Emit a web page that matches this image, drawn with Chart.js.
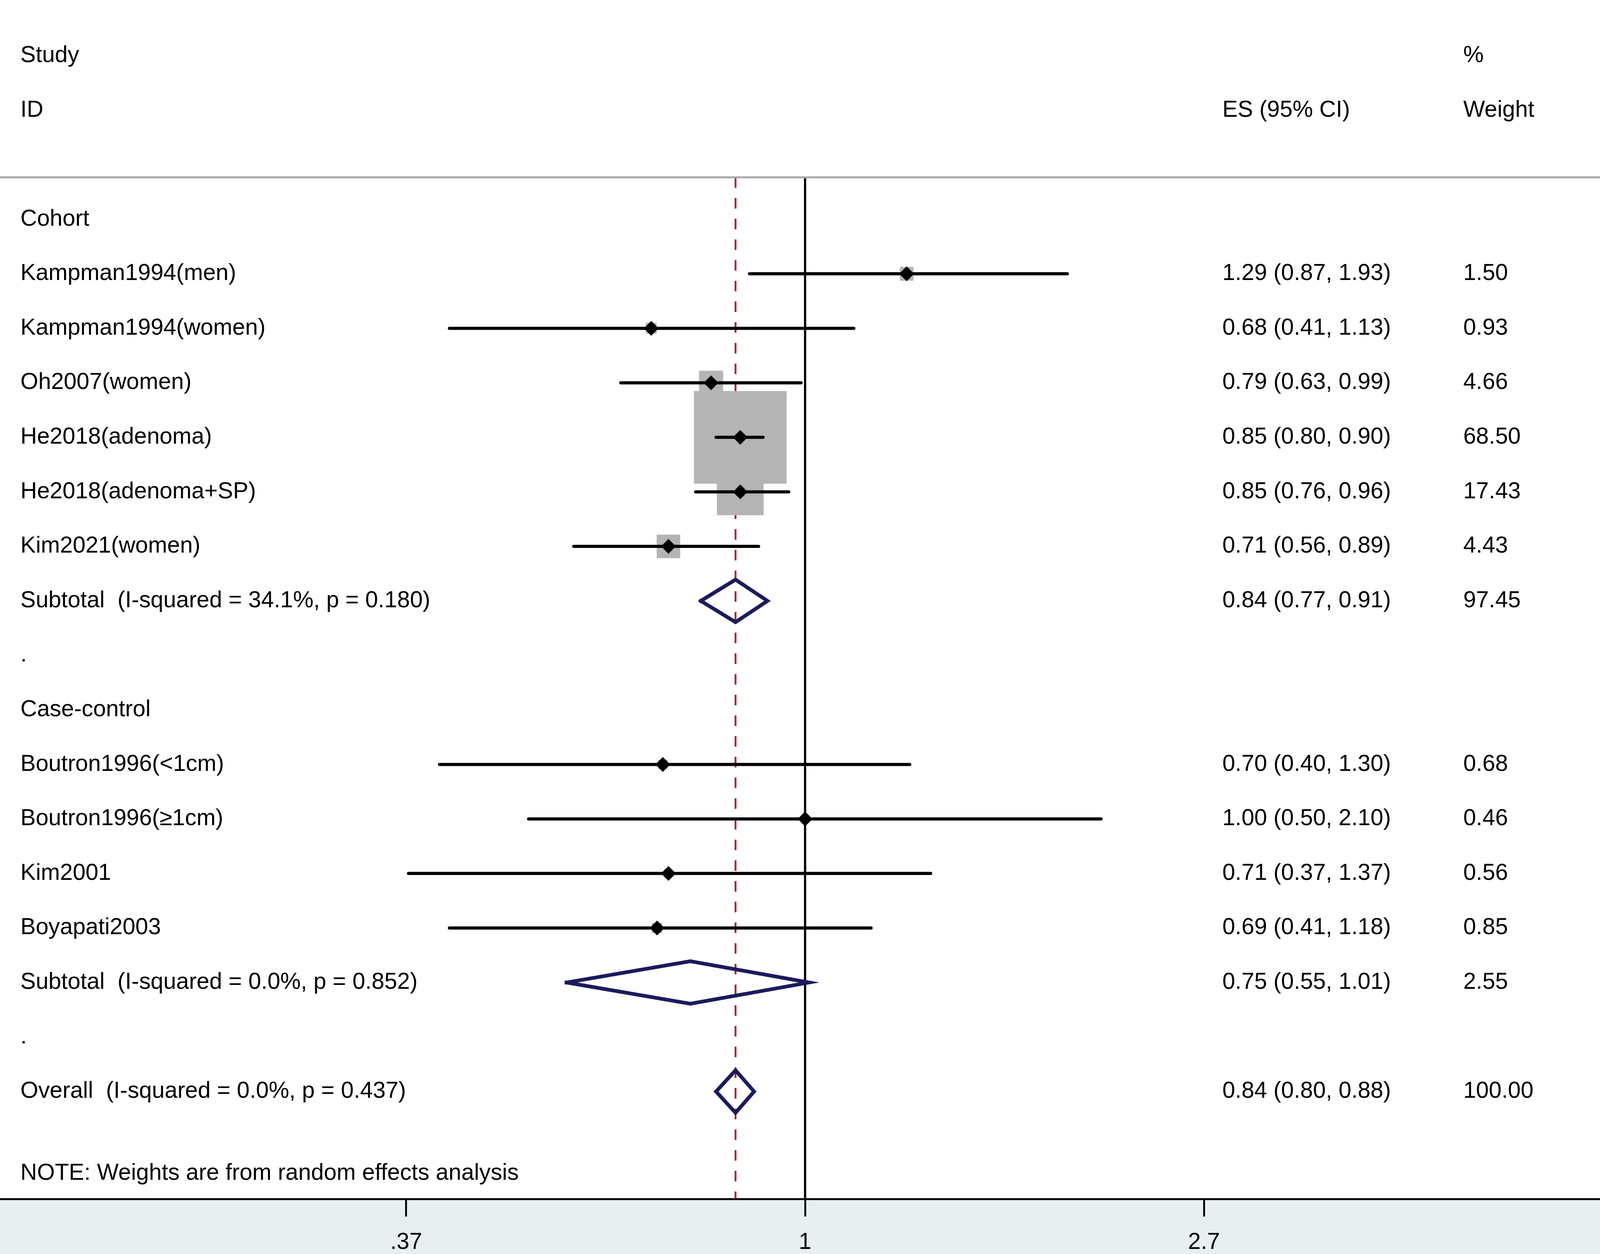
<!DOCTYPE html>
<html lang="en">
<head>
  <meta charset="UTF-8" />
  <title>Forest plot</title>
  <script src="https://cdn.jsdelivr.net/npm/chart.js@4.4.1/dist/chart.umd.min.js"></script>
  <style>
    html, body { margin: 0; padding: 0; background: #fff; overflow: hidden; }
    #wrap { position: fixed; left: 0; top: 0; width: 100vw; height: 100vh; }
  </style>
</head>
<body>
  <div id="wrap"><canvas id="forest"></canvas></div>

  <script>
    // individual studies
    const studyLabels = ['Kampman1994(men)', 'Kampman1994(women)', 'Oh2007(women)', 'He2018(adenoma)',
                         'He2018(adenoma+SP)', 'Kim2021(women)', 'Boutron1996(<1cm)', 'Boutron1996(\u22651cm)',
                         'Kim2001', 'Boyapati2003'];
    const studyRows   = [1, 2, 3, 4, 5, 6, 10, 11, 12, 13];
    const studyES     = [1.29, 0.68, 0.79, 0.85, 0.85, 0.71, 0.70, 1.00, 0.71, 0.69];
    const studyLo     = [0.87, 0.41, 0.63, 0.80, 0.76, 0.56, 0.40, 0.50, 0.37, 0.41];
    const studyHi     = [1.93, 1.13, 0.99, 0.90, 0.96, 0.89, 1.30, 2.10, 1.37, 1.18];
    const studyWeight = [1.50, 0.93, 4.66, 68.50, 17.43, 4.43, 0.68, 0.46, 0.56, 0.85];

    // pooled estimates (subtotals + overall)
    const pooledLabels = ['Subtotal  (I-squared = 34.1%, p = 0.180)',
                          'Subtotal  (I-squared = 0.0%, p = 0.852)',
                          'Overall  (I-squared = 0.0%, p = 0.437)'];
    const pooledRows   = [7, 14, 16];
    const pooledES     = [0.84, 0.75, 0.84];
    const pooledLo     = [0.77, 0.55, 0.80];
    const pooledHi     = [0.91, 1.01, 0.88];
    const pooledWeight = [97.45, 2.55, 100.00];

    // group headings and spacer rows
    const groupLabels = ['Cohort', 'Case-control'];
    const groupRows   = [0, 9];
    const spacerRows  = [8, 15];

    // x axis (log scale)
    const xTickValues = [0.3679, 1, 2.718];
    const xTickLabels = ['.37', '1', '2.7'];

    // everything is laid out on a 4317 x 3211 design and scaled to the window
    const wrap = document.getElementById('wrap');
    const sx = wrap.clientWidth / 4317;
    const sy = wrap.clientHeight / 3211;
    const FAMILY = '"Liberation Sans", Arial, sans-serif';
    const fs = 62 * sx;
    const SQUARE_PX = 30.2 * sx;   // square side per sqrt(weight)
    const DIAMOND_HALF = 0.39;     // pooled diamond half height, in rows
    const fmt = v => v.toFixed(2);

    const datasets = [];

    // null line and overall-effect dashed line
    datasets.push({
      data: [{x: 1, y: -0.77}, {x: 1, y: 17.97}],
      showLine: true, pointRadius: 0, borderColor: '#000', borderWidth: 6 * sx, order: 60
    });
    datasets.push({
      data: [{x: pooledES[2], y: -0.77}, {x: pooledES[2], y: 17.97}],
      showLine: true, pointRadius: 0, borderColor: '#a3262b', borderWidth: 5 * sx,
      borderDash: [27 * sy, 26 * sy], order: 55
    });

    // weight squares
    datasets.push({
      data: studyES.map((v, i) => ({x: v, y: studyRows[i]})),
      pointStyle: 'rect',
      pointRadius: studyWeight.map(w => SQUARE_PX * Math.sqrt(w) / Math.SQRT2),
      pointBorderWidth: 0, backgroundColor: '#b4b4b4', borderWidth: 0, order: 40
    });

    // confidence intervals
    studyLabels.forEach((_, i) => {
      datasets.push({
        data: [{x: studyLo[i], y: studyRows[i]}, {x: studyHi[i], y: studyRows[i]}],
        showLine: true, pointRadius: 0, borderColor: '#000', borderWidth: 8 * sy,
        borderCapStyle: 'round', order: 30
      });
    });

    // pooled diamonds
    pooledLabels.forEach((_, i) => {
      const r = pooledRows[i];
      datasets.push({
        data: [{x: pooledLo[i], y: r}, {x: pooledES[i], y: r - DIAMOND_HALF},
               {x: pooledHi[i], y: r}, {x: pooledES[i], y: r + DIAMOND_HALF},
               {x: pooledLo[i], y: r}],
        showLine: true, pointRadius: 0, borderColor: '#1b1a5c', borderWidth: 10 * sx,
        borderJoinStyle: 'miter', borderCapStyle: 'square', order: 20
      });
    });

    // point estimates
    datasets.push({
      data: studyES.map((v, i) => ({x: v, y: studyRows[i]})),
      pointStyle: 'rectRot', pointRadius: 20 * sx, pointBorderWidth: 0,
      backgroundColor: '#000', order: 10
    });

    // text columns, header, separator and bottom band
    const forestText = {
      id: 'forestText',
      beforeDraw(chart) {
        const {ctx, chartArea, width, height} = chart;
        ctx.save();
        ctx.fillStyle = '#e8eff1';
        ctx.fillRect(0, chartArea.bottom, width, height - chartArea.bottom);
        ctx.restore();
      },
      afterDraw(chart) {
        const {ctx, chartArea, width} = chart;
        const ys = chart.scales.y;
        ctx.save();
        ctx.strokeStyle = '#a8a8a8';
        ctx.lineWidth = 5 * sy;
        ctx.beginPath();
        ctx.moveTo(0, chartArea.top);
        ctx.lineTo(width, chartArea.top);
        ctx.stroke();

        ctx.font = fs + 'px ' + FAMILY;
        ctx.fillStyle = '#000';
        ctx.textBaseline = 'middle';
        ctx.textAlign = 'left';
        const put = (txt, x, row) => ctx.fillText(txt, x * sx, ys.getPixelForValue(row));
        const xLeft = 55, xES = 3298, xW = 3948;

        put('Study', xLeft, -3);
        put('ID', xLeft, -2);
        put('%', xW, -3);
        put('ES (95% CI)', xES, -2);
        put('Weight', xW, -2);

        groupLabels.forEach((t, i) => put(t, xLeft, groupRows[i]));
        spacerRows.forEach(r => put('.', xLeft, r));

        studyLabels.forEach((t, i) => {
          put(t, xLeft, studyRows[i]);
          put(fmt(studyES[i]) + ' (' + fmt(studyLo[i]) + ', ' + fmt(studyHi[i]) + ')', xES, studyRows[i]);
          put(fmt(studyWeight[i]), xW, studyRows[i]);
        });
        pooledLabels.forEach((t, i) => {
          put(t, xLeft, pooledRows[i]);
          put(fmt(pooledES[i]) + ' (' + fmt(pooledLo[i]) + ', ' + fmt(pooledHi[i]) + ')', xES, pooledRows[i]);
          put(fmt(pooledWeight[i]), xW, pooledRows[i]);
        });

        put('NOTE: Weights are from random effects analysis', xLeft, 17.5);
        ctx.restore();
      }
    };

    const tickLen = 45 * sy;
    const axisHeight = 141 * sy;

    new Chart(document.getElementById('forest'), {
      type: 'scatter',
      data: { datasets },
      plugins: [forestText],
      options: {
        responsive: true,
        maintainAspectRatio: false,
        animation: false,
        layout: { autoPadding: false, padding: { top: 454 * sy, left: 0, right: 0, bottom: 0 } },
        plugins: { legend: { display: false }, tooltip: { enabled: false } },
        scales: {
          x: {
            type: 'logarithmic',
            min: 0.1329,
            max: 7.335,
            afterBuildTicks: axis => { axis.ticks = xTickValues.map(v => ({value: v})); },
            afterFit: axis => { axis.height = axisHeight; },
            ticks: {
              callback: (v, i) => xTickLabels[i],
              font: { size: fs, family: FAMILY, lineHeight: 1 },
              color: '#000',
              padding: 37 * sy,
              maxRotation: 0,
              autoSkip: false
            },
            grid: { drawOnChartArea: false, drawTicks: true, tickLength: tickLen, tickWidth: 5 * sx, tickColor: '#000' },
            border: { display: true, color: '#000', width: 5 * sy }
          },
          y: {
            type: 'linear',
            reverse: true,
            min: -0.77,
            max: 17.97,
            display: false
          }
        }
      }
    });
  </script>
</body>
</html>
